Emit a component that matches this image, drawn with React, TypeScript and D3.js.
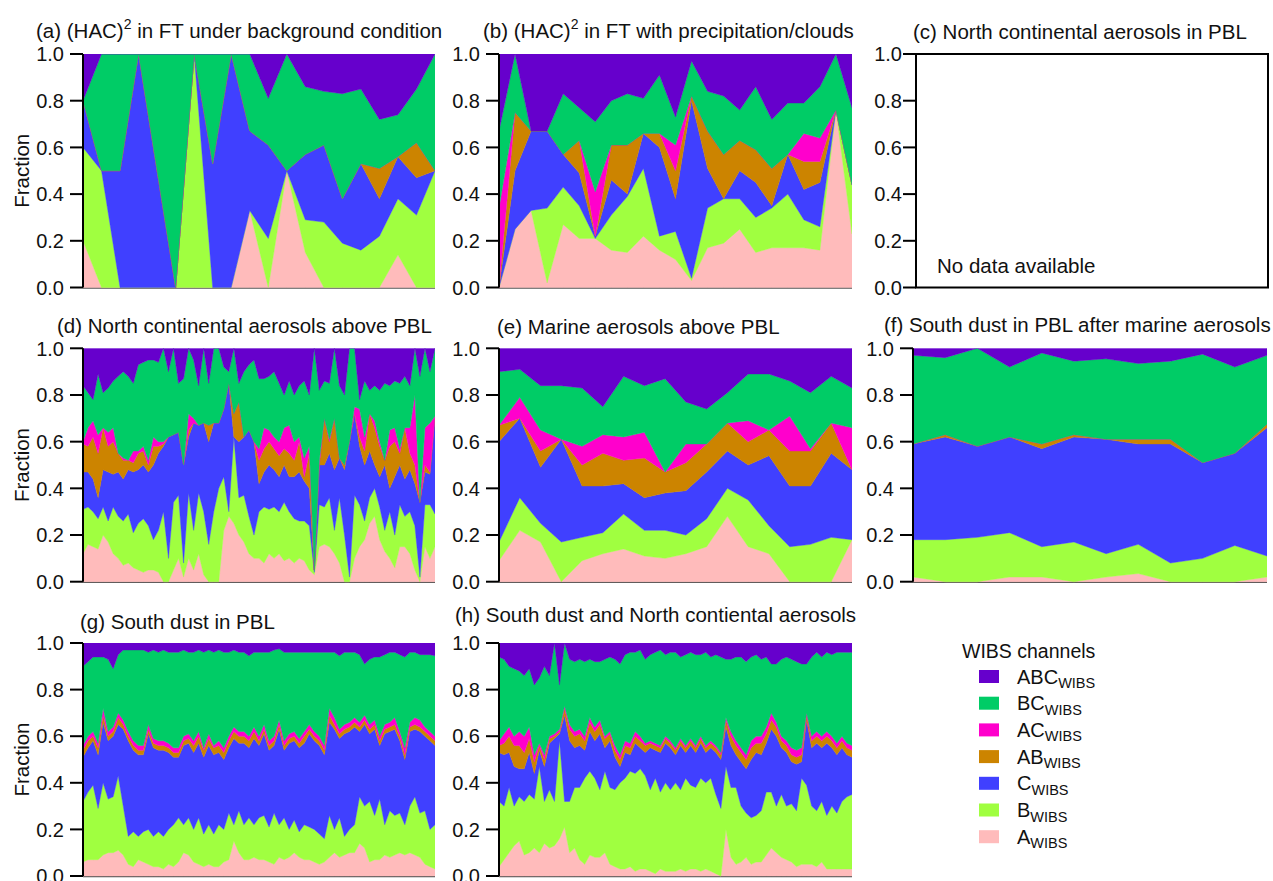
import React from "react";
import * as d3 from "d3";

// WIBS fluorescence channel classes, stacked bottom to top
const channelKeys = ["A", "B", "C", "AB", "AC", "BC", "ABC"];
const channelColors: Record<string, string> = {
  A: "#FFBBBB",
  B: "#A0FF40",
  C: "#4040FF",
  AB: "#CC8400",
  AC: "#FF00CC",
  BC: "#00CC66",
  ABC: "#6600CC",
};
const legendOrder = ["ABC", "BC", "AC", "AB", "C", "B", "A"];
const yTicks = [0, 0.2, 0.4, 0.6, 0.8, 1.0];

// (a) (HAC)^2 in FT under background condition
const aA = [0.2, 0, 0, 0, 0, 0, 0, 0, 0, 0.33, 0, 0.5, 0.15, 0, 0, 0, 0, 0.14, 0, 0];
const aB = [0.4, 0.5, 0, 0, 0, 0, 1, 0, 0, 0, 0.21, 0, 0.14, 0.28, 0.19, 0.16, 0.22, 0.24, 0.31, 0.5];
const aC = [0.2, 0, 0.5, 1, 0.5, 0, 0, 0.53, 1, 0.34, 0.4, 0, 0.28, 0.33, 0.19, 0.37, 0.16, 0.18, 0.16, 0];
const aAB = [0, 0, 0, 0, 0, 0, 0, 0, 0, 0, 0, 0, 0, 0, 0, 0, 0.13, 0, 0.15, 0];
const aAC = [0, 0, 0, 0, 0, 0, 0, 0, 0, 0, 0, 0, 0, 0, 0, 0, 0, 0, 0, 0];
const aBC = [0, 0.5, 0.5, 0, 0.5, 1, 0, 0.47, 0, 0.33, 0.2, 0.5, 0.29, 0.23, 0.45, 0.32, 0.21, 0.18, 0.23, 0.5];
const aABC = [0.2, 0, 0, 0, 0, 0, 0, 0, 0, 0, 0.19, 0, 0.14, 0.16, 0.17, 0.15, 0.28, 0.26, 0.15, 0];

// (b) (HAC)^2 in FT with precipitation/clouds
const bA = [0, 0.25, 0.33, 0.02, 0.27, 0.21, 0.21, 0.16, 0.15, 0.22, 0.16, 0.12, 0.03, 0.17, 0.19, 0.25, 0.15, 0.17, 0.17, 0.17, 0.16, 0.76, 0.23];
const bB = [0, 0, 0, 0.32, 0.16, 0.14, 0, 0.15, 0.24, 0.29, 0.06, 0.12, 0.01, 0.17, 0.19, 0.13, 0.15, 0.17, 0.23, 0.12, 0.1, 0, 0.21];
const bC = [0, 0.25, 0.34, 0.33, 0.14, 0.14, 0.01, 0.15, 0.01, 0.15, 0.38, 0.14, 0.76, 0.17, 0, 0.12, 0.15, 0.01, 0.17, 0.13, 0.19, 0, 0];
const bAB = [0, 0.25, 0, 0, 0, 0.14, 0, 0.15, 0.21, 0, 0.06, 0.12, 0.02, 0.16, 0.19, 0.13, 0.14, 0.16, 0, 0.12, 0.09, 0, 0];
const bAC = [0.34, 0, 0, 0, 0, 0, 0.19, 0, 0, 0, 0, 0.11, 0, 0, 0, 0, 0, 0, 0, 0.12, 0.1, 0, 0];
const bBC = [0.33, 0.25, 0, 0, 0.26, 0.14, 0.3, 0.19, 0.22, 0.15, 0.25, 0.12, 0.15, 0.17, 0.25, 0.13, 0.27, 0.21, 0.22, 0.13, 0.22, 0.24, 0.33];
const bABC = [0.33, 0, 0.33, 0.33, 0.17, 0.23, 0.29, 0.2, 0.17, 0.19, 0.09, 0.27, 0.03, 0.16, 0.18, 0.24, 0.14, 0.28, 0.21, 0.21, 0.14, 0, 0.23];

// (d) North continental aerosols above PBL
const dA = [0.12, 0.16, 0.15, 0.14, 0.2, 0.17, 0.12, 0.1, 0.07, 0.08, 0.06, 0.05, 0.04, 0.05, 0.05, 0.04, 0, 0, 0.05, 0.1, 0.02, 0.1, 0.05, 0.12, 0.03, 0, 0, 0, 0.22, 0.28, 0.25, 0.2, 0.17, 0.12, 0.1, 0.1, 0.08, 0.12, 0.1, 0.12, 0.09, 0.1, 0.08, 0.1, 0.09, 0.05, 0.03, 0.15, 0.16, 0.15, 0.12, 0.08, 0, 0, 0.1, 0.15, 0.18, 0.25, 0.28, 0.18, 0.13, 0.1, 0.06, 0.15, 0.15, 0.12, 0.05, 0, 0.15, 0.1, 0.15];
const dB = [0.19, 0.16, 0.15, 0.13, 0.12, 0.09, 0.2, 0.18, 0.19, 0.21, 0.15, 0.2, 0.23, 0.19, 0.13, 0.18, 0.3, 0.1, 0.29, 0.27, 0.06, 0.28, 0.17, 0.26, 0.27, 0.16, 0.3, 0.4, 0.23, 0.02, 0.37, 0.16, 0.2, 0.16, 0.1, 0.2, 0.24, 0.19, 0.22, 0.18, 0.25, 0.2, 0.19, 0.16, 0.17, 0.19, 0.01, 0.18, 0.16, 0.21, 0.1, 0.28, 0.2, 0.02, 0.27, 0.18, 0.08, 0.11, 0.12, 0.14, 0.09, 0.2, 0.14, 0.18, 0.13, 0.18, 0.19, 0.02, 0.18, 0.23, 0.14];
const dC = [0.16, 0.15, 0.14, 0.09, 0.16, 0.21, 0.14, 0.19, 0.18, 0.19, 0.26, 0.23, 0.23, 0.23, 0.32, 0.33, 0.28, 0.52, 0.29, 0.27, 0.42, 0.24, 0.46, 0.29, 0.38, 0.44, 0.38, 0.28, 0.29, 0.55, 0, 0.24, 0.25, 0.37, 0.4, 0.12, 0.15, 0.19, 0.16, 0.15, 0.16, 0.15, 0.18, 0.21, 0.17, 0.16, 0.01, 0.17, 0.18, 0.19, 0.26, 0.17, 0.28, 0.58, 0.35, 0.25, 0.24, 0.2, 0.1, 0.13, 0.28, 0.1, 0.25, 0.17, 0.16, 0.18, 0.18, 0.32, 0.14, 0.13, 0.42];
const dAB = [0.12, 0.11, 0.18, 0.19, 0.18, 0.11, 0.14, 0.08, 0.08, 0.04, 0.04, 0.07, 0.06, 0.03, 0.08, 0.03, 0.01, 0, 0, 0, 0, 0.03, 0, 0, 0, 0.07, 0, 0, 0, 0, 0.1, 0.17, 0, 0, 0, 0.1, 0.1, 0.1, 0.09, 0.09, 0.07, 0.1, 0.07, 0.13, 0.02, 0.15, 0, 0, 0.2, 0.05, 0.22, 0, 0.02, 0, 0, 0.04, 0.06, 0.16, 0.16, 0.13, 0.02, 0.18, 0.15, 0.05, 0.22, 0.07, 0.08, 0, 0.03, 0.01, 0];
const dAC = [0.01, 0.08, 0.07, 0.08, 0, 0.06, 0.06, 0, 0.01, 0, 0.05, 0.01, 0.02, 0.02, 0.04, 0.02, 0.01, 0, 0, 0, 0, 0.07, 0.02, 0, 0, 0, 0, 0, 0, 0, 0, 0, 0, 0, 0, 0.05, 0.09, 0.05, 0.05, 0.06, 0.09, 0.12, 0.08, 0.02, 0.08, 0.03, 0, 0.02, 0, 0.01, 0, 0, 0, 0, 0.03, 0.12, 0.06, 0, 0.03, 0.02, 0, 0.07, 0.06, 0.02, 0, 0.11, 0.3, 0, 0.16, 0.21, 0];
const dBC = [0.24, 0.15, 0.09, 0.26, 0.15, 0.19, 0.2, 0.33, 0.37, 0.36, 0.29, 0.37, 0.36, 0.43, 0.33, 0.34, 0.4, 0.28, 0.37, 0.21, 0.37, 0.28, 0.25, 0.17, 0.32, 0.18, 0.32, 0.32, 0.18, 0.05, 0.28, 0.08, 0.28, 0.28, 0.35, 0.3, 0.21, 0.23, 0.28, 0.25, 0.14, 0.19, 0.2, 0.22, 0.33, 0.22, 0.95, 0.3, 0.16, 0.24, 0.3, 0.31, 0.3, 0.4, 0.25, 0.04, 0.24, 0.1, 0.15, 0.22, 0.33, 0.19, 0.2, 0.28, 0.22, 0.18, 0.2, 0.54, 0.34, 0.22, 0.29];
const dABC = [0.16, 0.19, 0.22, 0.11, 0.19, 0.17, 0.14, 0.12, 0.1, 0.12, 0.15, 0.07, 0.06, 0.05, 0.05, 0.06, 0, 0.1, 0, 0.15, 0.13, 0, 0.05, 0.16, 0, 0.15, 0, 0, 0.08, 0.1, 0, 0.15, 0.1, 0.07, 0.05, 0.13, 0.13, 0.12, 0.1, 0.15, 0.2, 0.14, 0.2, 0.16, 0.14, 0.2, 0, 0.18, 0.14, 0.15, 0, 0.16, 0.2, 0, 0, 0.22, 0.14, 0.18, 0.16, 0.18, 0.15, 0.16, 0.14, 0.15, 0.12, 0.16, 0, 0.12, 0, 0.1, 0];

// (e) Marine aerosols above PBL
const eA = [0.09, 0.22, 0.17, 0, 0.09, 0.12, 0.14, 0.11, 0.1, 0.12, 0.15, 0.28, 0.15, 0.12, 0, 0, 0, 0.18];
const eB = [0.08, 0.14, 0.08, 0.17, 0.1, 0.09, 0.15, 0.11, 0.12, 0.08, 0.12, 0.12, 0.2, 0.12, 0.15, 0.16, 0.19, 0];
const eC = [0.43, 0.34, 0.24, 0.44, 0.22, 0.2, 0.13, 0.14, 0.16, 0.19, 0.2, 0.16, 0.15, 0.3, 0.26, 0.25, 0.36, 0.3];
const eAB = [0.07, 0, 0.07, 0, 0.09, 0.14, 0.1, 0.17, 0.09, 0.12, 0.12, 0.12, 0.1, 0.11, 0.15, 0.15, 0.13, 0];
const eAC = [0, 0.09, 0.09, 0, 0.08, 0.08, 0.1, 0.11, 0, 0.08, 0, 0, 0.09, 0, 0.15, 0.01, 0, 0.18];
const eBC = [0.23, 0.12, 0.19, 0.23, 0.25, 0.12, 0.26, 0.2, 0.4, 0.18, 0.15, 0.13, 0.2, 0.24, 0.15, 0.24, 0.2, 0.17];
const eABC = [0.1, 0.09, 0.16, 0.16, 0.17, 0.25, 0.12, 0.16, 0.13, 0.23, 0.26, 0.19, 0.11, 0.11, 0.14, 0.19, 0.12, 0.17];

// (f) South dust in PBL after marine aerosols
const fA = [0.02, 0, 0, 0.02, 0.02, 0, 0.02, 0.035, 0, 0, 0, 0.02];
const fB = [0.16, 0.18, 0.19, 0.19, 0.13, 0.17, 0.1, 0.125, 0.08, 0.1, 0.155, 0.09];
const fC = [0.41, 0.44, 0.39, 0.41, 0.42, 0.45, 0.49, 0.43, 0.51, 0.41, 0.395, 0.55];
const fAB = [0, 0.01, 0, 0, 0.02, 0.01, 0, 0.02, 0.02, 0, 0, 0.015];
const fAC = [0, 0, 0, 0, 0, 0, 0, 0, 0, 0, 0, 0];
const fBC = [0.38, 0.33, 0.42, 0.3, 0.39, 0.315, 0.345, 0.325, 0.335, 0.465, 0.37, 0.295];
const fABC = [0.03, 0.04, 0, 0.08, 0.02, 0.055, 0.045, 0.065, 0.055, 0.025, 0.08, 0.03];

// (g) South dust in PBL
const gA = [0.06, 0.07, 0.07, 0.07, 0.09, 0.1, 0.1, 0.11, 0.09, 0.05, 0.04, 0.07, 0.06, 0.05, 0.04, 0.04, 0.03, 0.05, 0.04, 0.06, 0.1, 0.09, 0.06, 0.05, 0.04, 0.05, 0.04, 0.04, 0.06, 0.07, 0.15, 0.1, 0.07, 0.07, 0.08, 0.07, 0.07, 0.06, 0.05, 0.08, 0.07, 0.08, 0.1, 0.08, 0.07, 0.07, 0.06, 0.05, 0.06, 0.08, 0.1, 0.08, 0.09, 0.1, 0.1, 0.14, 0.12, 0.06, 0.07, 0.07, 0.09, 0.08, 0.09, 0.1, 0.09, 0.1, 0.09, 0.08, 0.05, 0.04, 0.03];
const gB = [0.26, 0.29, 0.32, 0.22, 0.31, 0.23, 0.24, 0.32, 0.21, 0.12, 0.15, 0.1, 0.13, 0.15, 0.13, 0.15, 0.14, 0.15, 0.18, 0.19, 0.12, 0.16, 0.14, 0.2, 0.14, 0.17, 0.14, 0.18, 0.14, 0.2, 0.07, 0.18, 0.15, 0.18, 0.14, 0.18, 0.19, 0.15, 0.22, 0.14, 0.18, 0.12, 0.14, 0.11, 0.15, 0.14, 0.14, 0.13, 0.1, 0.18, 0.1, 0.17, 0.08, 0.1, 0.12, 0.2, 0.18, 0.26, 0.19, 0.26, 0.13, 0.2, 0.17, 0.17, 0.13, 0.2, 0.25, 0.19, 0.23, 0.16, 0.19];
const gC = [0.19, 0.19, 0.19, 0.23, 0.26, 0.25, 0.26, 0.22, 0.33, 0.41, 0.35, 0.35, 0.33, 0.41, 0.38, 0.35, 0.37, 0.33, 0.29, 0.26, 0.34, 0.32, 0.33, 0.32, 0.33, 0.34, 0.34, 0.31, 0.3, 0.28, 0.37, 0.29, 0.35, 0.3, 0.37, 0.31, 0.35, 0.33, 0.29, 0.41, 0.29, 0.37, 0.34, 0.36, 0.35, 0.4, 0.38, 0.38, 0.36, 0.4, 0.43, 0.34, 0.44, 0.42, 0.42, 0.28, 0.35, 0.29, 0.37, 0.23, 0.39, 0.34, 0.37, 0.31, 0.28, 0.32, 0.29, 0.35, 0.32, 0.38, 0.34];
const gAB = [0.03, 0.03, 0.02, 0.03, 0.03, 0.02, 0.02, 0.03, 0.02, 0.02, 0.02, 0.02, 0.02, 0.02, 0.02, 0.02, 0.02, 0.02, 0.02, 0.02, 0.02, 0.02, 0.03, 0.03, 0.03, 0.03, 0.03, 0.03, 0.03, 0.03, 0.03, 0.03, 0.03, 0.03, 0.03, 0.02, 0.02, 0.02, 0.02, 0.02, 0.02, 0.02, 0.02, 0.02, 0.03, 0.02, 0.02, 0.02, 0.02, 0.03, 0.02, 0.02, 0.02, 0.02, 0.02, 0.02, 0.02, 0.02, 0.02, 0.02, 0.02, 0.02, 0.02, 0.02, 0.02, 0.02, 0.02, 0.02, 0.02, 0.02, 0.02];
const gAC = [0.02, 0.02, 0.02, 0.02, 0.03, 0.02, 0.02, 0.02, 0.02, 0.02, 0.02, 0.02, 0.02, 0.02, 0.02, 0.02, 0.02, 0.02, 0.02, 0.02, 0.02, 0.02, 0.02, 0.02, 0.01, 0.02, 0.01, 0.02, 0.02, 0.02, 0.02, 0.02, 0.02, 0.02, 0.02, 0.02, 0.02, 0.02, 0.02, 0.02, 0.02, 0.02, 0.02, 0.02, 0.02, 0.02, 0.02, 0.02, 0.02, 0.03, 0.03, 0.02, 0.02, 0.02, 0.02, 0.02, 0.02, 0.02, 0.02, 0.02, 0.02, 0.02, 0.03, 0.02, 0.03, 0.02, 0.03, 0.03, 0.02, 0.02, 0.02];
const gBC = [0.34, 0.32, 0.32, 0.37, 0.22, 0.31, 0.25, 0.25, 0.3, 0.35, 0.39, 0.41, 0.41, 0.31, 0.38, 0.38, 0.39, 0.39, 0.41, 0.41, 0.37, 0.35, 0.38, 0.35, 0.41, 0.36, 0.4, 0.39, 0.41, 0.36, 0.33, 0.34, 0.34, 0.345, 0.32, 0.36, 0.31, 0.38, 0.37, 0.305, 0.38, 0.35, 0.34, 0.37, 0.34, 0.31, 0.34, 0.36, 0.4, 0.24, 0.28, 0.315, 0.31, 0.3, 0.28, 0.29, 0.22, 0.28, 0.27, 0.34, 0.3, 0.3, 0.28, 0.33, 0.39, 0.3, 0.28, 0.28, 0.31, 0.33, 0.345];
const gABC = [0.1, 0.08, 0.06, 0.06, 0.06, 0.07, 0.11, 0.05, 0.03, 0.03, 0.03, 0.03, 0.03, 0.04, 0.03, 0.04, 0.03, 0.04, 0.04, 0.04, 0.03, 0.04, 0.04, 0.03, 0.04, 0.03, 0.04, 0.03, 0.04, 0.04, 0.03, 0.04, 0.04, 0.055, 0.04, 0.04, 0.04, 0.04, 0.03, 0.025, 0.04, 0.04, 0.04, 0.04, 0.04, 0.04, 0.04, 0.04, 0.04, 0.04, 0.04, 0.055, 0.04, 0.04, 0.04, 0.05, 0.09, 0.07, 0.06, 0.06, 0.05, 0.04, 0.04, 0.05, 0.06, 0.04, 0.04, 0.05, 0.05, 0.05, 0.055];

// (h) South dust and North continental aerosols
const hA = [0.04, 0.07, 0.1, 0.13, 0.15, 0.09, 0.1, 0.12, 0.1, 0.14, 0.12, 0.13, 0.16, 0.21, 0.1, 0.12, 0.07, 0.05, 0.09, 0.08, 0.08, 0.1, 0.05, 0.04, 0.03, 0.03, 0.04, 0.02, 0.03, 0.03, 0.02, 0.01, 0.03, 0.02, 0.02, 0.02, 0.03, 0.02, 0.03, 0.03, 0.02, 0.03, 0.02, 0.01, 0, 0.2, 0.08, 0.05, 0.06, 0.08, 0.05, 0.06, 0.06, 0.09, 0.12, 0.1, 0.08, 0.07, 0.06, 0.04, 0.05, 0.05, 0.05, 0.04, 0.06, 0.03, 0.03, 0.03, 0.03, 0.03, 0.03];
const hB = [0.28, 0.23, 0.28, 0.17, 0.19, 0.23, 0.25, 0.21, 0.37, 0.18, 0.25, 0.19, 0.42, 0.11, 0.22, 0.26, 0.31, 0.37, 0.36, 0.34, 0.29, 0.35, 0.33, 0.33, 0.37, 0.39, 0.41, 0.42, 0.43, 0.4, 0.35, 0.41, 0.33, 0.38, 0.35, 0.38, 0.34, 0.4, 0.36, 0.35, 0.4, 0.37, 0.4, 0.34, 0.29, 0.27, 0.3, 0.33, 0.24, 0.19, 0.2, 0.2, 0.22, 0.27, 0.24, 0.2, 0.27, 0.23, 0.25, 0.24, 0.37, 0.34, 0.25, 0.24, 0.26, 0.23, 0.27, 0.24, 0.29, 0.31, 0.32];
const hC = [0.21, 0.22, 0.15, 0.17, 0.12, 0.14, 0.18, 0.11, 0.07, 0.15, 0.2, 0.27, 0.03, 0.37, 0.26, 0.17, 0.18, 0.12, 0.17, 0.16, 0.24, 0.1, 0.2, 0.14, 0.07, 0.11, 0.07, 0.13, 0.09, 0.1, 0.18, 0.12, 0.17, 0.17, 0.18, 0.12, 0.19, 0.11, 0.17, 0.15, 0.15, 0.13, 0.13, 0.18, 0.21, 0.17, 0.18, 0.14, 0.19, 0.19, 0.25, 0.27, 0.24, 0.21, 0.27, 0.3, 0.2, 0.23, 0.18, 0.2, 0.07, 0.28, 0.25, 0.29, 0.23, 0.31, 0.25, 0.25, 0.23, 0.18, 0.16];
const hAB = [0.03, 0.05, 0.07, 0.09, 0.1, 0.07, 0.06, 0.05, 0.02, 0.03, 0.02, 0.01, 0.01, 0.03, 0.05, 0.05, 0.05, 0.04, 0.04, 0.04, 0.04, 0.04, 0.03, 0.03, 0.03, 0.03, 0.03, 0.03, 0.03, 0.03, 0.02, 0.02, 0.02, 0.02, 0.02, 0.02, 0.02, 0.02, 0.02, 0.02, 0.02, 0.02, 0.02, 0.02, 0.02, 0.03, 0.04, 0.04, 0.04, 0.04, 0.05, 0.04, 0.05, 0.04, 0.04, 0.04, 0.03, 0.03, 0.03, 0.03, 0.03, 0.02, 0.03, 0.03, 0.03, 0.03, 0.03, 0.03, 0.03, 0.03, 0.03];
const hAC = [0.02, 0.04, 0.04, 0.04, 0.06, 0.07, 0.05, 0.03, 0.01, 0.02, 0.01, 0.01, 0.01, 0.01, 0.02, 0.02, 0.02, 0.02, 0.02, 0.02, 0.02, 0.01, 0.01, 0.02, 0.02, 0.02, 0.02, 0.02, 0.02, 0.01, 0.01, 0.01, 0.01, 0.01, 0.01, 0.01, 0.01, 0.01, 0.01, 0.01, 0.01, 0.01, 0.01, 0.01, 0.01, 0.01, 0.02, 0.02, 0.02, 0.02, 0.03, 0.03, 0.03, 0.03, 0.03, 0.02, 0.02, 0.02, 0.03, 0.03, 0.03, 0.01, 0.02, 0.02, 0.02, 0.02, 0.02, 0.02, 0.02, 0.02, 0.02];
const hBC = [0.36, 0.32, 0.26, 0.29, 0.26, 0.26, 0.25, 0.3, 0.28, 0.38, 0.26, 0.39, 0.19, 0.27, 0.28, 0.3, 0.3, 0.32, 0.25, 0.28, 0.25, 0.33, 0.32, 0.37, 0.39, 0.37, 0.39, 0.34, 0.37, 0.36, 0.37, 0.39, 0.41, 0.35, 0.38, 0.41, 0.35, 0.39, 0.37, 0.39, 0.35, 0.4, 0.36, 0.39, 0.41, 0.25, 0.31, 0.36, 0.39, 0.4, 0.36, 0.35, 0.33, 0.3, 0.21, 0.25, 0.33, 0.36, 0.38, 0.38, 0.36, 0.21, 0.34, 0.34, 0.34, 0.34, 0.35, 0.39, 0.36, 0.39, 0.4];
const hABC = [0.06, 0.07, 0.1, 0.11, 0.12, 0.14, 0.11, 0.18, 0.15, 0.1, 0.14, 0, 0.18, 0, 0.07, 0.08, 0.07, 0.08, 0.07, 0.08, 0.08, 0.07, 0.06, 0.07, 0.09, 0.05, 0.04, 0.04, 0.03, 0.07, 0.05, 0.04, 0.03, 0.05, 0.04, 0.04, 0.06, 0.05, 0.04, 0.05, 0.05, 0.04, 0.06, 0.05, 0.06, 0.07, 0.07, 0.06, 0.06, 0.08, 0.06, 0.05, 0.07, 0.06, 0.09, 0.09, 0.07, 0.06, 0.07, 0.08, 0.09, 0.09, 0.06, 0.04, 0.06, 0.04, 0.05, 0.04, 0.04, 0.04, 0.04];

const FONT = "'Liberation Sans', Arial, Helvetica, sans-serif";

type PanelSpec = {
  id: string;
  title: [string, string, string];
  titleX: number;
  titleY: number;
  x0: number;
  x1: number;
  yBottom: number;
  yTop: number;
  series: number[][] | null;
  yLabel: boolean;
  labelGap: number;
};

const ROW1 = { yBottom: 287.5, yTop: 54 };
const ROW2 = { yBottom: 581.7, yTop: 348.3 };
const ROW3 = { yBottom: 876, yTop: 643 };

const panels: PanelSpec[] = [
  { id: "a", title: ["(a) (HAC)", "2", " in FT under background condition"], titleX: 36, titleY: 38, x0: 83, x1: 435, ...ROW1, series: [aA, aB, aC, aAB, aAC, aBC, aABC], yLabel: true, labelGap: 19 },
  { id: "b", title: ["(b) (HAC)", "2", " in FT with precipitation/clouds"], titleX: 483, titleY: 38, x0: 499, x1: 852, ...ROW1, series: [bA, bB, bC, bAB, bAC, bBC, bABC], yLabel: false, labelGap: 19 },
  { id: "c", title: ["(c) North continental aerosols in PBL", "", ""], titleX: 913, titleY: 39, x0: 916, x1: 1268, ...ROW1, series: null, yLabel: false, labelGap: 14 },
  { id: "d", title: ["(d) North continental aerosols above PBL", "", ""], titleX: 57, titleY: 333, x0: 83, x1: 435, ...ROW2, series: [dA, dB, dC, dAB, dAC, dBC, dABC], yLabel: true, labelGap: 19 },
  { id: "e", title: ["(e) Marine aerosols above PBL", "", ""], titleX: 497, titleY: 334, x0: 499, x1: 852, ...ROW2, series: [eA, eB, eC, eAB, eAC, eBC, eABC], yLabel: false, labelGap: 19 },
  { id: "f", title: ["(f) South dust in PBL after marine aerosols", "", ""], titleX: 884, titleY: 332, x0: 913, x1: 1267, ...ROW2, series: [fA, fB, fC, fAB, fAC, fBC, fABC], yLabel: false, labelGap: 19 },
  { id: "g", title: ["(g) South dust in PBL", "", ""], titleX: 80, titleY: 629, x0: 83, x1: 435, ...ROW3, series: [gA, gB, gC, gAB, gAC, gBC, gABC], yLabel: true, labelGap: 19 },
  { id: "h", title: ["(h) South dust and North contiental aerosols", "", ""], titleX: 455, titleY: 622, x0: 499, x1: 852, ...ROW3, series: [hA, hB, hC, hAB, hAC, hBC, hABC], yLabel: false, labelGap: 19 },
];

function Panel({ p }: { p: PanelSpec }) {
  const y = d3.scaleLinear().domain([0, 1]).range([p.yBottom, p.yTop]);
  let layers: React.ReactNode = null;
  if (p.series) {
    const n = p.series[0].length;
    const rows = d3.range(n).map((i) => {
      const r: Record<string, number> = {};
      channelKeys.forEach((k, j) => (r[k] = p.series![j][i]));
      return r;
    });
    const stacked = d3.stack<Record<string, number>>().keys(channelKeys)(rows);
    const x = d3.scaleLinear().domain([0, n - 1]).range([p.x0, p.x1]);
    const area = d3
      .area<d3.SeriesPoint<Record<string, number>>>()
      .x((_, i) => x(i))
      .y0((d) => y(d[0]))
      .y1((d) => y(d[1]));
    layers = (
      <g clipPath={`url(#clip-${p.id})`}>
        <line x1={p.x0} x2={p.x1} y1={p.yBottom + 0.5} y2={p.yBottom + 0.5} stroke="#555" strokeWidth={1.5} />
        {stacked.map((s) => (
          <path
            key={s.key}
            d={area(s) || ""}
            fill={channelColors[s.key]}
            stroke={channelColors[s.key]}
            strokeWidth={0.4}
          />
        ))}
      </g>
    );
  }
  const cy = (p.yBottom + p.yTop) / 2;
  return (
    <g>
      <defs>
        <clipPath id={`clip-${p.id}`}>
          <rect x={p.x0} y={p.yTop} width={p.x1 - p.x0} height={p.yBottom - p.yTop + 2} />
        </clipPath>
      </defs>
      {layers}
      {!p.series && (
        <>
          <rect x={p.x0} y={p.yTop} width={p.x1 - p.x0} height={p.yBottom - p.yTop} fill="none" stroke="#000" strokeWidth={2} />
          <text x={p.x0 + 21} y={p.yBottom - 15} fontSize={20.5} fontFamily={FONT} fill="#111">
            No data available
          </text>
        </>
      )}
      <line x1={p.x0} x2={p.x0} y1={p.yBottom} y2={p.yTop} stroke="#000" strokeWidth={2} />
      {yTicks.map((t) => (
        <g key={t}>
          <line x1={p.x0 - 13} x2={p.x0} y1={y(t)} y2={y(t)} stroke="#000" strokeWidth={2} />
          <text
            x={p.x0 - p.labelGap}
            y={y(t)}
            dy="0.36em"
            textAnchor="end"
            fontSize={20}
            fontFamily={FONT}
            fill="#111"
          >
            {d3.format(".1f")(t)}
          </text>
        </g>
      ))}
      <text x={p.titleX} y={p.titleY} fontSize={20.5} fontFamily={FONT} fill="#111">
        {p.title[0]}
        {p.title[1] && (
          <tspan fontSize={14} dy={-9}>
            {p.title[1]}
          </tspan>
        )}
        {p.title[2] && <tspan dy={p.title[1] ? 9 : 0}>{p.title[2]}</tspan>}
      </text>
      {p.yLabel && (
        <text
          transform={`translate(29,${cy}) rotate(-90)`}
          textAnchor="middle"
          fontSize={20.5}
          fontFamily={FONT}
          fill="#111"
        >
          Fraction
        </text>
      )}
    </g>
  );
}

function Legend() {
  const top = 676.5;
  const step = 26.7;
  return (
    <g fontFamily={FONT} fill="#111">
      <text x={962} y={658} fontSize={19.5}>
        WIBS channels
      </text>
      {legendOrder.map((k, i) => {
        const cy = top + i * step;
        return (
          <g key={k}>
            <rect x={979} y={cy - 6.5} width={20} height={13} fill={channelColors[k]} />
            <text x={1017} y={cy + 7} fontSize={20}>
              {k}
              <tspan fontSize={14.5} dy={4.5}>
                WIBS
              </tspan>
            </text>
          </g>
        );
      })}
    </g>
  );
}

export default function App() {
  return (
    <svg
      width={1273}
      height={881}
      viewBox="0 0 1273 881"
      style={{ position: "absolute", left: 0, top: 0, display: "block", background: "#fff" }}
    >
      <rect width={1273} height={881} fill="#fff" />
      {panels.map((p) => (
        <Panel key={p.id} p={p} />
      ))}
      <Legend />
    </svg>
  );
}
